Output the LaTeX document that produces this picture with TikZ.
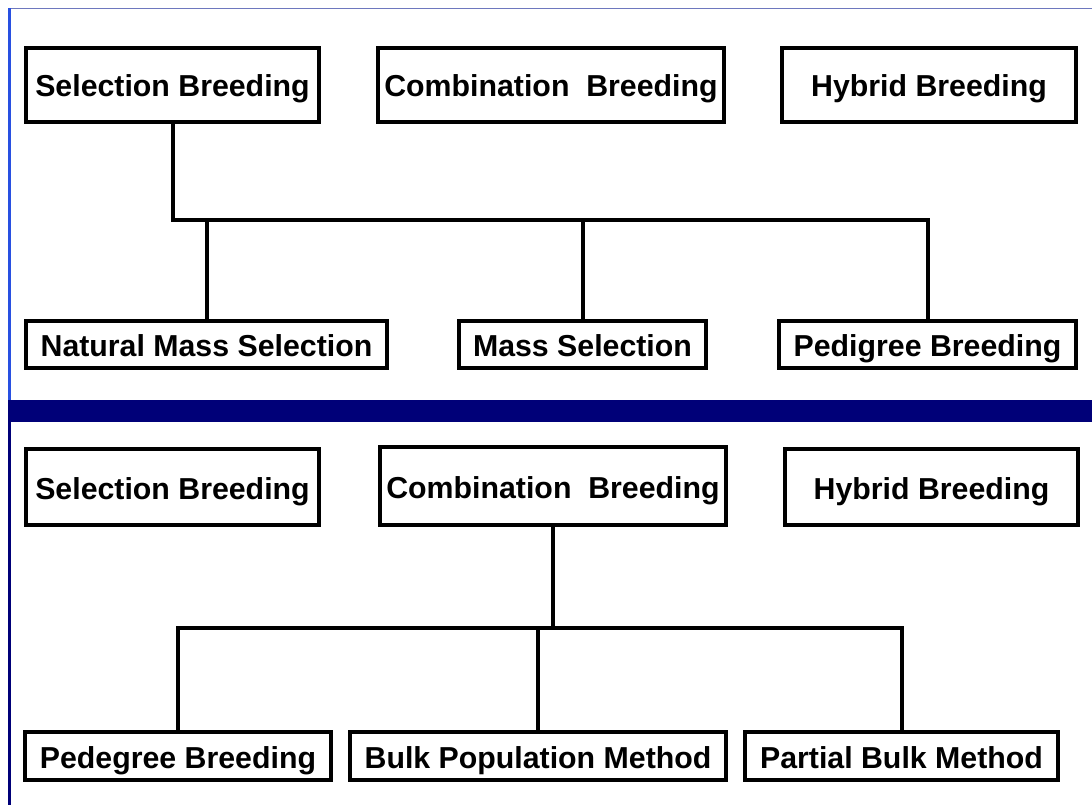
\documentclass[tikz,border=0pt]{standalone}
\usepackage{fontspec}
\setmainfont{Liberation Sans}
\usetikzlibrary{calc}
\definecolor{barblue}{RGB}{0,0,120}
\definecolor{edgeblue}{RGB}{40,80,225}
\definecolor{topline}{RGB}{110,120,190}

\begin{document}
\begin{tikzpicture}[x=1pt,y=-1pt,line width=4pt,
    every node/.style={font=\fontsize{30.3}{35}\selectfont\bfseries,text height=25pt,text depth=1pt},
    box/.style={draw,inner sep=0pt,minimum height=74pt},
    lowbox/.style={draw,inner sep=0pt,minimum height=47pt}]
  \useasboundingbox (0,0) rectangle (1092,805);
  % frame and separator
  \fill[topline] (8,8.5) rectangle (1092,9.5);
  \fill[edgeblue] (8,8) rectangle (11,400);
  \fill[barblue] (8,400) rectangle (11,805);
  \fill[barblue] (8,400) rectangle (1092,422);

  % upper chart
  \node[box,minimum width=293pt] (sel1) at (172.5,85) {Selection Breeding};
  \node[box,minimum width=346pt] (comb1) at (551,85) {Combination\ \ Breeding};
  \node[box,minimum width=294pt] (hyb1) at (929,85) {Hybrid Breeding};
  \node[lowbox,minimum width=361pt] (nms) at (206.5,344.5) {Natural Mass Selection};
  \node[lowbox,minimum width=247pt] (ms) at (582.5,344.5) {Mass Selection};
  \node[lowbox,minimum width=297pt] (ped1) at (927.5,344.5) {Pedigree Breeding};
  \coordinate (jt) at (172.5,220);
  \draw (sel1.south) -- (jt) -| (ped1.north);
  \draw (nms.north) -- (nms.north |- jt);
  \draw (ms.north) -- (ms.north |- jt);

  % lower chart
  \node[box,minimum width=293pt,minimum height=76pt] (sel2) at (172.5,487) {Selection Breeding};
  \node[box,minimum width=346pt,minimum height=78pt] (comb2) at (553,486) {Combination\ \ Breeding};
  \node[box,minimum width=293pt,minimum height=76pt] (hyb2) at (931.5,487) {Hybrid Breeding};
  \node[lowbox,minimum width=306pt,minimum height=48pt] (peg) at (178,756) {Pedegree Breeding};
  \node[lowbox,minimum width=376pt,minimum height=48pt] (bpm) at (538,756) {Bulk Population Method};
  \node[lowbox,minimum width=313pt,minimum height=48pt] (pbm) at (901.5,756) {Partial Bulk Method};
  \coordinate (jb) at (553,628);
  \draw (comb2.south) -- (jb);
  \draw (peg.north) |- (jb) -| (pbm.north);
  \draw (bpm.north) -- (bpm.north |- jb);
\end{tikzpicture}
\end{document}
